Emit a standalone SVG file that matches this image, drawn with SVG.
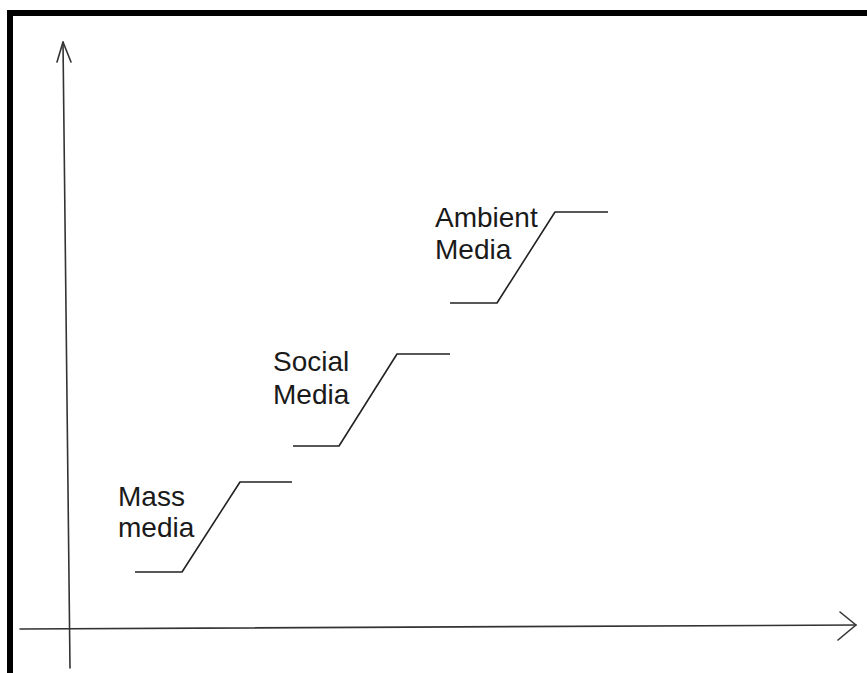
<svg xmlns="http://www.w3.org/2000/svg" width="867" height="673" viewBox="0 0 867 673">
<style>
.ax{fill:none;stroke:#333;stroke-width:1.6;stroke-linecap:round;stroke-linejoin:round}
.st{fill:none;stroke:#222;stroke-width:1.6;stroke-linejoin:round}
.lb{font-family:"Liberation Sans",Arial,sans-serif;font-size:28px;fill:#1a1a1a}
</style>
<rect width="867" height="673" fill="#fff"/>
<path d="M10 680 V13 H880" fill="none" stroke="#000" stroke-width="6"/>
<g id="connectors">
<path class="ax" d="M70 668 L63 42"/>
<path class="ax" d="M57 62 L63 42 L71 62"/>
<path class="ax" d="M20 629 L856 625"/>
<path class="ax" d="M840 612 L856 625 L838 640"/>
</g>
<g id="mass-media">
<path class="st" d="M135 572 H182 L240 482 H292"/>
<text class="lb" x="118" y="506">Mass</text>
<text class="lb" x="118" y="537">media</text>
</g>
<g id="social-media">
<path class="st" d="M293 446 H339 L397 354 H450"/>
<text class="lb" x="273" y="371">Social</text>
<text class="lb" x="273" y="404">Media</text>
</g>
<g id="ambient-media">
<path class="st" d="M450 303 H497 L555 212 H608"/>
<text class="lb" x="435" y="227">Ambient</text>
<text class="lb" x="435" y="259">Media</text>
</g>
</svg>
